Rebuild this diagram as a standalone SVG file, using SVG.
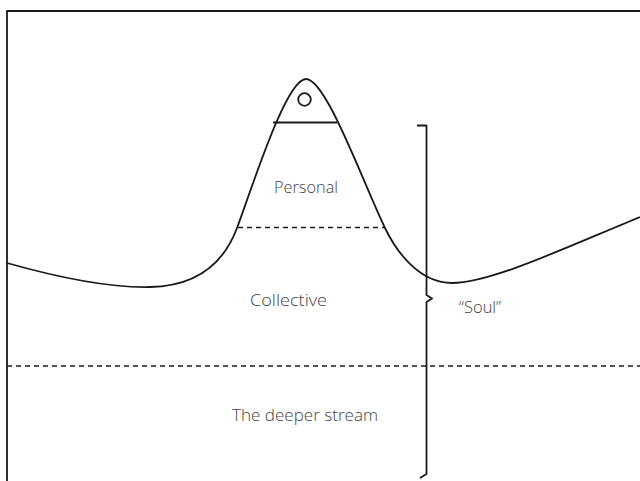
<svg xmlns="http://www.w3.org/2000/svg" width="640" height="481" viewBox="0 0 640 481">
<style>
.ln{fill:none;stroke:#1a1a1a;stroke-width:1.8;stroke-linecap:butt;stroke-linejoin:round}
.dash{fill:none;stroke:#1a1a1a;stroke-width:1.5;stroke-dasharray:5 4}
.lbl{font-family:"Open Sans","Liberation Sans",sans-serif;font-weight:300;font-size:16.5px;fill:#444}
</style>
<rect width="640" height="481" fill="#fff"/>
<g id="frame"><path class="ln" d="M7,490 V11 H650" stroke-width="1.5"/></g>
<g id="surface">
<path class="ln" d="M7,263 C60,278 110,288 150,287 C200,286 225,260 237,228 C252,188 286,79 306,79 C326,79 362,180 385,228 C397,253 420,283 452,283 C490,283 560,250 640,217"/>
</g>
<g id="peak">
<line class="ln" x1="273" y1="122.5" x2="337" y2="122.5" stroke-width="1.3"/>
<circle class="ln" cx="304.5" cy="99.5" r="6.3" stroke-width="1.3"/>
</g>
<g id="personal">
<line class="dash" x1="238" y1="227.5" x2="385" y2="227.5"/>
<text class="lbl" x="274" y="193" textLength="64" lengthAdjust="spacingAndGlyphs">Personal</text>
</g>
<g id="collective">
<text class="lbl" x="250" y="305.5" textLength="77" lengthAdjust="spacingAndGlyphs">Collective</text>
</g>
<g id="deeper">
<line class="dash" x1="7" y1="366" x2="640" y2="366"/>
<text class="lbl" x="232" y="421" textLength="146" lengthAdjust="spacingAndGlyphs">The deeper stream</text>
</g>
<g id="soul">
<path class="ln" d="M417,125.5 H426.5 V295 L432,298.5 L426.5,302 V474 L420,478" stroke-width="2"/>
<text class="lbl" x="459" y="313">“Soul”</text>
</g>
</svg>
